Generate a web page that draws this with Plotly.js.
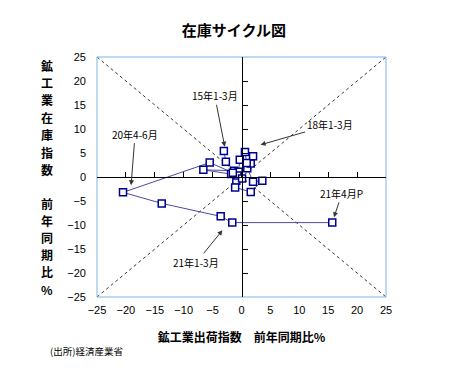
<!DOCTYPE html>
<html>
<head>
<meta charset="utf-8">
<script src="https://cdn.plot.ly/plotly-3.0.1.min.js"></script>
<style>html,body{margin:0;padding:0;background:#fff;}#chart{width:468px;height:379px;}</style>
</head>
<body>
<div id="chart"></div>
<script>
// 2015Q1 ... 2021Q1 (quarterly) + 2021年4月P
var periods = ['15Q1','15Q2','15Q3','15Q4','16Q1','16Q2','16Q3','16Q4','17Q1','17Q2','17Q3','17Q4',
  '18Q1','18Q2','18Q3','18Q4','19Q1','19Q2','19Q3','19Q4','20Q1','20Q2','20Q3','20Q4','21Q1','21/4P'];
// 鉱工業出荷指数 前年同期比%
var shipmentsYoY = [-3.05,-2.7,-1.3,-6.6,-1.8,-0.9,-1.1,1.6,3.6,2.0,1.0,1.6,
  2.0,0.6,0.9,-0.3,-0.5,-0.7,0.1,-1.5,-5.5,-20.5,-13.8,-3.6,-1.6,15.7];
// 鉱工業在庫指数 前年同期比%
var inventoryYoY = [5.4,3.2,1.3,1.5,0.6,-0.8,-2.2,-3.1,-0.8,-1.0,1.8,2.8,
  4.3,5.2,2.9,3.6,1.1,0.3,-0.3,0.9,3.0,-3.2,-5.5,-8.2,-9.5,-9.5];
var tickValues = [-25,-20,-15,-10,-5,0,5,10,15,20,25];
var axisRange = [-25,25];
var yTitleTop = '鉱工業在庫指数';
var yTitleBottom = '前年同期比%';

var jp = '"Noto Sans CJK JP", "Noto Sans", sans-serif';
var lat = '"Liberation Sans", Arial, sans-serif';

var traces = [
  {x: shipmentsYoY, y: inventoryYoY, text: periods, type: 'scatter', mode: 'lines+markers',
   line: {color: '#4a4aa0', width: 1},
   marker: {symbol: 'square', size: 7, color: '#ffffff', line: {color: '#000090', width: 1.5}},
   hoverinfo: 'text+x+y', showlegend: false},
  {x: [], y: [], xaxis: 'x2', yaxis: 'y2', type: 'scatter', mode: 'markers', showlegend: false, hoverinfo: 'skip'}
];

// vertical (stacked) y-axis title, one character per annotation
var plotTop = 57, plotH = 240;
var vAnn = [];
function addStack(str, startPx, step) {
  Array.from(str).forEach(function (ch, i) {
    var py = startPx + step * i;
    vAnn.push({xref: 'paper', yref: 'paper', x: -0.173, y: 1 - (py - plotTop) / plotH,
      xanchor: 'center', yanchor: 'middle', showarrow: false, borderpad: 0,
      text: '<b>' + ch + '</b>', font: {family: jp, size: 12, color: '#000'}});
  });
}
addStack(yTitleTop, 65, 17.4);
addStack(yTitleBottom, 203, 17.2);

var layout = {
  width: 468, height: 379,
  margin: {l: 97, r: 82, t: 57, b: 82},
  paper_bgcolor: '#ffffff', plot_bgcolor: '#ffffff',
  showlegend: false,
  title: {text: '<b>在庫サイクル図</b>', font: {family: jp, size: 15, color: '#000'}, x: 0.5, xanchor: 'center', y: 0.92, yanchor: 'middle'},
  xaxis: {range: axisRange, tickvals: tickValues, showgrid: false, zeroline: false, showline: false, ticks: '',
    tickfont: {family: lat, size: 11, color: '#000'}, ticklabelstandoff: 5,
    title: {text: '<b>鉱工業出荷指数　前年同期比%</b>', font: {family: jp, size: 12, color: '#000'}, standoff: 18}},
  yaxis: {range: axisRange, tickvals: tickValues, showgrid: false, zeroline: false, showline: false, ticks: '',
    tickfont: {family: lat, size: 11, color: '#000'}, ticklabelstandoff: 10},
  xaxis2: {overlaying: 'x', anchor: 'free', position: 0.5, side: 'bottom', range: axisRange, tickvals: tickValues,
    showgrid: false, zeroline: false, showline: true, linecolor: '#000', linewidth: 1.3,
    ticks: 'inside', ticklen: 5, tickcolor: '#000', tickwidth: 1, showticklabels: false},
  yaxis2: {overlaying: 'y', anchor: 'free', position: 0.5, side: 'left', range: axisRange, tickvals: tickValues,
    showgrid: false, zeroline: false, showline: true, linecolor: '#000', linewidth: 1.3,
    ticks: 'inside', ticklen: 5, tickcolor: '#000', tickwidth: 1, showticklabels: false},
  shapes: [
    {type: 'line', xref: 'paper', yref: 'paper', x0: 0, y0: 0, x1: 1, y1: 1, layer: 'below',
     line: {color: '#333', width: 1, dash: '3px,3px'}},
    {type: 'line', xref: 'paper', yref: 'paper', x0: 0, y0: 1, x1: 1, y1: 0, layer: 'below',
     line: {color: '#333', width: 1, dash: '3px,3px'}},
    {type: 'rect', xref: 'paper', yref: 'paper', x0: 0, y0: 0, x1: 1, y1: 1, layer: 'below',
     line: {color: '#7fb2e5', width: 1}}
  ],
  annotations: vAnn.concat([
    {xref: 'paper', yref: 'paper', x: -0.17, y: -0.225, xanchor: 'left', yanchor: 'middle', showarrow: false,
     text: '(出所)経済産業省', font: {family: jp, size: 9.5, color: '#000'}},
    {x: -2.9, y: 6.3, ax: -10, ay: -51, text: '15年1-3月', showarrow: true, arrowhead: 2, arrowsize: 1, arrowwidth: 1, arrowcolor: '#333',
     font: {family: jp, size: 10, color: '#000'}},
    {x: 3.3, y: 6.7, ax: 69, ay: -20, text: '18年1-3月', showarrow: true, arrowhead: 2, arrowsize: 1, arrowwidth: 1, arrowcolor: '#333',
     font: {family: jp, size: 10, color: '#000'}},
    {x: -19.1, y: -1.7, ax: 4, ay: -51, text: '20年4-6月', showarrow: true, arrowhead: 2, arrowsize: 1, arrowwidth: 1, arrowcolor: '#333',
     font: {family: jp, size: 10, color: '#000'}},
    {x: 16.0, y: -8.4, ax: 8, ay: -24, text: '21年4月P', showarrow: true, arrowhead: 2, arrowsize: 1, arrowwidth: 1, arrowcolor: '#333',
     font: {family: jp, size: 10, color: '#000'}},
    {x: -3.3, y: -11.1, ax: -26, ay: 32, text: '21年1-3月', showarrow: true, arrowhead: 2, arrowsize: 1, arrowwidth: 1, arrowcolor: '#333',
     font: {family: jp, size: 10, color: '#000'}}
  ])
};

Plotly.newPlot('chart', traces, layout, {displayModeBar: false, staticPlot: true});
</script>
</body>
</html>
